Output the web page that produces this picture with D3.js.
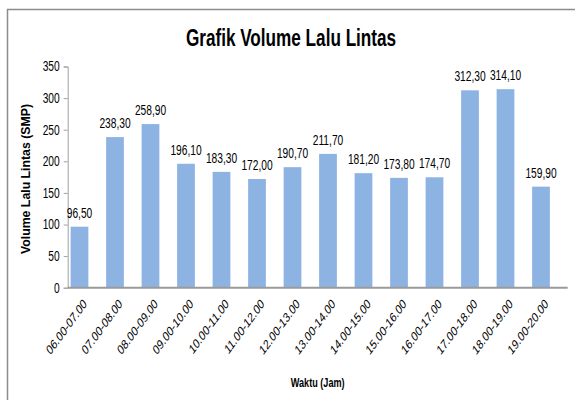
<!DOCTYPE html>
<html>
<head>
<meta charset="utf-8">
<script src="https://cdn.jsdelivr.net/npm/d3@7"></script>
<style>
  body { margin: 0; background: #fff; }
  text { font-family: "Liberation Sans", Arial, sans-serif; fill: #000; }
</style>
</head>
<body>
<div id="chart"></div>
<script>
// data
const categories = ["06.00-07.00", "07.00-08.00", "08.00-09.00", "09.00-10.00", "10.00-11.00",
  "11.00-12.00", "12.00-13.00", "13.00-14.00", "14.00-15.00", "15.00-16.00",
  "16.00-17.00", "17.00-18.00", "18.00-19.00", "19.00-20.00"];
const volumes = [96.5, 238.3, 258.9, 196.1, 183.3, 172.0, 190.7, 211.7, 181.2, 173.8, 174.7, 312.3, 314.1, 159.9];
const yTicks = [0, 50, 100, 150, 200, 250, 300, 350];

const width = 575;
const height = 400;
const sx = 0.73; // the picture is squeezed horizontally

const axisLeft = 67.7, axisRight = 567.7;
const plotTop = 66.5, plotBottom = 287.7;

const svg = d3.select("#chart").append("svg")
  .attr("width", width)
  .attr("height", height);

// chart border
svg.append("rect")
  .attr("x", 7.5).attr("y", 9.5)
  .attr("width", width).attr("height", height)
  .attr("fill", "none")
  .attr("stroke", "#8c8c8c")
  .attr("stroke-width", 1.5);

const x = d3.scaleBand()
  .domain(categories)
  .range([61.75, 558.75])
  .paddingInner(0.5)
  .paddingOuter(0.25);

const y = d3.scaleLinear()
  .domain([0, 350])
  .range([plotBottom, plotTop]);

const fmt = v => v.toFixed(2).replace(".", ",");

// title
svg.append("text")
  .attr("transform", `translate(291,46) scale(${sx},1)`)
  .attr("text-anchor", "middle")
  .style("font-size", "23.5px")
  .style("font-weight", "bold")
  .text("Grafik Volume Lalu Lintas");

// y axis
const yAxis = svg.append("g")
  .attr("transform", `translate(${axisLeft},0)`)
  .call(d3.axisLeft(y).tickValues(yTicks).tickSize(4).tickSizeOuter(4).tickPadding(4));
yAxis.select(".domain").attr("stroke", "#a0a0a0");
yAxis.selectAll(".tick line").attr("stroke", "#a0a0a0");
yAxis.selectAll(".tick text")
  .attr("font-size", null)
  .style("font-size", "14px")
  .attr("fill", "#000")
  .attr("transform", function() {
    const tx = +d3.select(this).attr("x");
    return `translate(${tx},0) scale(${sx},1)`;
  })
  .attr("x", 0);

// bars
svg.append("g")
  .selectAll("rect")
  .data(volumes)
  .join("rect")
  .attr("x", (d, i) => x(categories[i]))
  .attr("y", d => y(d))
  .attr("width", x.bandwidth())
  .attr("height", d => y(0) - y(d))
  .attr("fill", "#8db3e2");

// x baseline
svg.append("line")
  .attr("x1", axisLeft).attr("x2", axisRight)
  .attr("y1", plotBottom).attr("y2", plotBottom)
  .attr("stroke", "#9a9a9a")
  .attr("stroke-width", 2);

// value labels
svg.append("g")
  .selectAll("text")
  .data(volumes)
  .join("text")
  .attr("transform", (d, i) => `translate(${x(categories[i]) + x.bandwidth() / 2},${y(d) - 9}) scale(${sx},1)`)
  .attr("text-anchor", "middle")
  .style("font-size", "14px")
  .text(d => fmt(d));

// category labels
svg.append("g")
  .selectAll("text")
  .data(categories)
  .join("text")
  .attr("transform", d => `translate(${x(d) + x.bandwidth() / 2 + 8},${plotBottom + 17}) scale(${sx},1) rotate(-45)`)
  .attr("text-anchor", "end")
  .style("font-size", "13.5px")
  .text(d => d);

// axis titles
svg.append("text")
  .attr("transform", `translate(${(axisLeft + axisRight) / 2},387) scale(${sx},1)`)
  .attr("text-anchor", "middle")
  .style("font-size", "12.5px")
  .style("font-weight", "bold")
  .text("Waktu (Jam)");

svg.append("text")
  .attr("transform", "translate(30,179) rotate(-90)")
  .attr("text-anchor", "middle")
  .style("font-size", "12.3px")
  .style("font-weight", "bold")
  .text("Volume Lalu Lintas (SMP)");
</script>
</body>
</html>
